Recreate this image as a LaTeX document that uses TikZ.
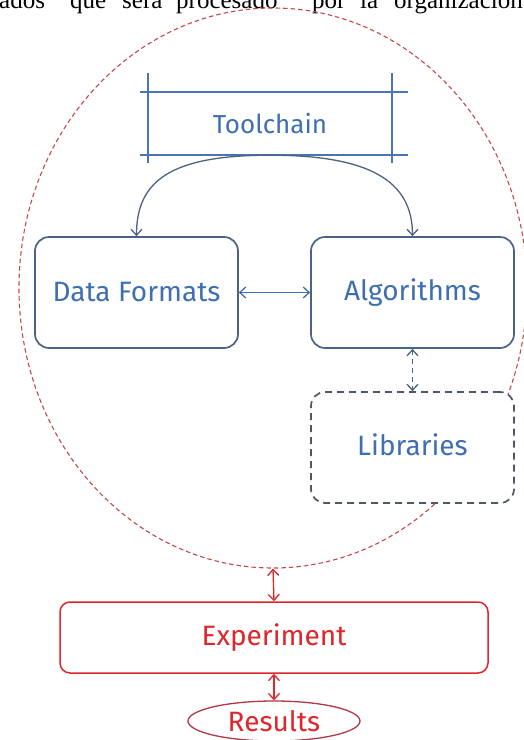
\documentclass[tikz,border=0pt]{standalone}
\usepackage{fontspec}
\setmainfont{Liberation Serif}
\newfontfamily\handfont{Fira Sans}
\usetikzlibrary{arrows.meta,shapes.geometric,calc}
\definecolor{inkblue}{HTML}{3F6FB0}
\definecolor{lineblue}{HTML}{4A74B4}
\definecolor{slate}{HTML}{4B6383}
\definecolor{dashgray}{HTML}{505866}
\definecolor{inkred}{HTML}{E0262B}
\definecolor{dashred}{HTML}{C8474E}
\tikzset{
  hand/.style={font=\handfont\fontsize{28}{32}\selectfont},
  bluebox/.style={draw=slate, line width=1.7pt, rounded corners=14pt, fill=white,
    minimum width=203pt, minimum height=111pt, text=inkblue, hand},
  libbox/.style={bluebox, draw=dashgray, dash pattern=on 7pt off 5pt},
  redbox/.style={draw=inkred, line width=1.5pt, rounded corners=10pt,
    minimum width=428pt, minimum height=71pt, text=inkred, hand},
  redoval/.style={ellipse, draw=inkred!70!slate, line width=1.3pt,
    minimum width=172pt, minimum height=40pt, inner sep=0pt, text=inkred, hand},
  barb/.tip={Straight Barb[length=6pt,width=11pt]},
  tipb/.style={-barb, line width=1.3pt},
  dtipb/.style={barb-barb, line width=1.3pt},
  word/.style={anchor=base west, inner sep=0pt, font=\fontsize{25}{28}\selectfont},
}
\begin{document}
\begin{tikzpicture}[x=1pt,y=-1pt]
\useasboundingbox[fill=white] (0,0) rectangle (524,740);

% line of running text above the figure
\node[word] (w1) at (-1,8) {ados};
\node[word] (w2) at (70,8) {que};
\node[word] (w3) at (122,8) {será};
\node[word] (w4) at (176,8) {procesado};
\node[word] (w5) at (312,8) {por};
\node[word] (w6) at (360,8) {la};
\node[word] (w7) at (394,8) {organización};

% dashed outline grouping the toolchain parts
\node[ellipse, draw=dashred, line width=1.1pt, dash pattern=on 4.5pt off 3pt,
  minimum width=508pt, minimum height=560pt, inner sep=0pt] (grp) at (273,288) {};

% toolchain header drawn as a sketched frame
\node[minimum width=244pt, minimum height=63pt, inner sep=0pt, text=inkblue, hand,
  font=\handfont\fontsize{26}{30}\selectfont]
  (tc) at (270,123.5) {Toolchain};
\draw[lineblue, line width=1.8pt]
  ($(tc.north west)+(-8,0)$) -- ($(tc.north east)+(16,0)$)
  ($(tc.south west)+(-8,0)$) -- ($(tc.south east)+(16,0)$)
  ($(tc.north west)+(0,-19)$) -- ($(tc.south west)+(0,8)$)
  ($(tc.north east)+(0,-19)$) -- ($(tc.south east)+(0,8)$);

\node[bluebox] (df) at (136.5,292.5) {Data Formats};
\node[bluebox] (alg) at (412.5,292.5) {\raisebox{-3pt}{Algorithms}};
\node[libbox] (lib) at (412.5,447.5) {\raisebox{6pt}{Libraries}};

\node[redbox] (exp) at (274,637.5) {Experiment};
\node[redoval] (res) at (274,721) {Results};

% connectors
\draw[tipb, slate] (tc.south) .. controls +(-100,0) and +(0,-55) .. (df.north);
\draw[tipb, slate] (tc.south) .. controls +(100,0) and +(0,-55) .. (alg.north);
\draw[dtipb, inkblue] (df.east) -- (alg.west);
\draw[dtipb, slate, dash pattern=on 5pt off 4pt] (alg.south) -- (lib.north);
\draw[dtipb, inkred] (grp.south) -- (exp.north);
\draw[dtipb, inkred] (exp.south) -- (res.north);
\end{tikzpicture}
\end{document}
